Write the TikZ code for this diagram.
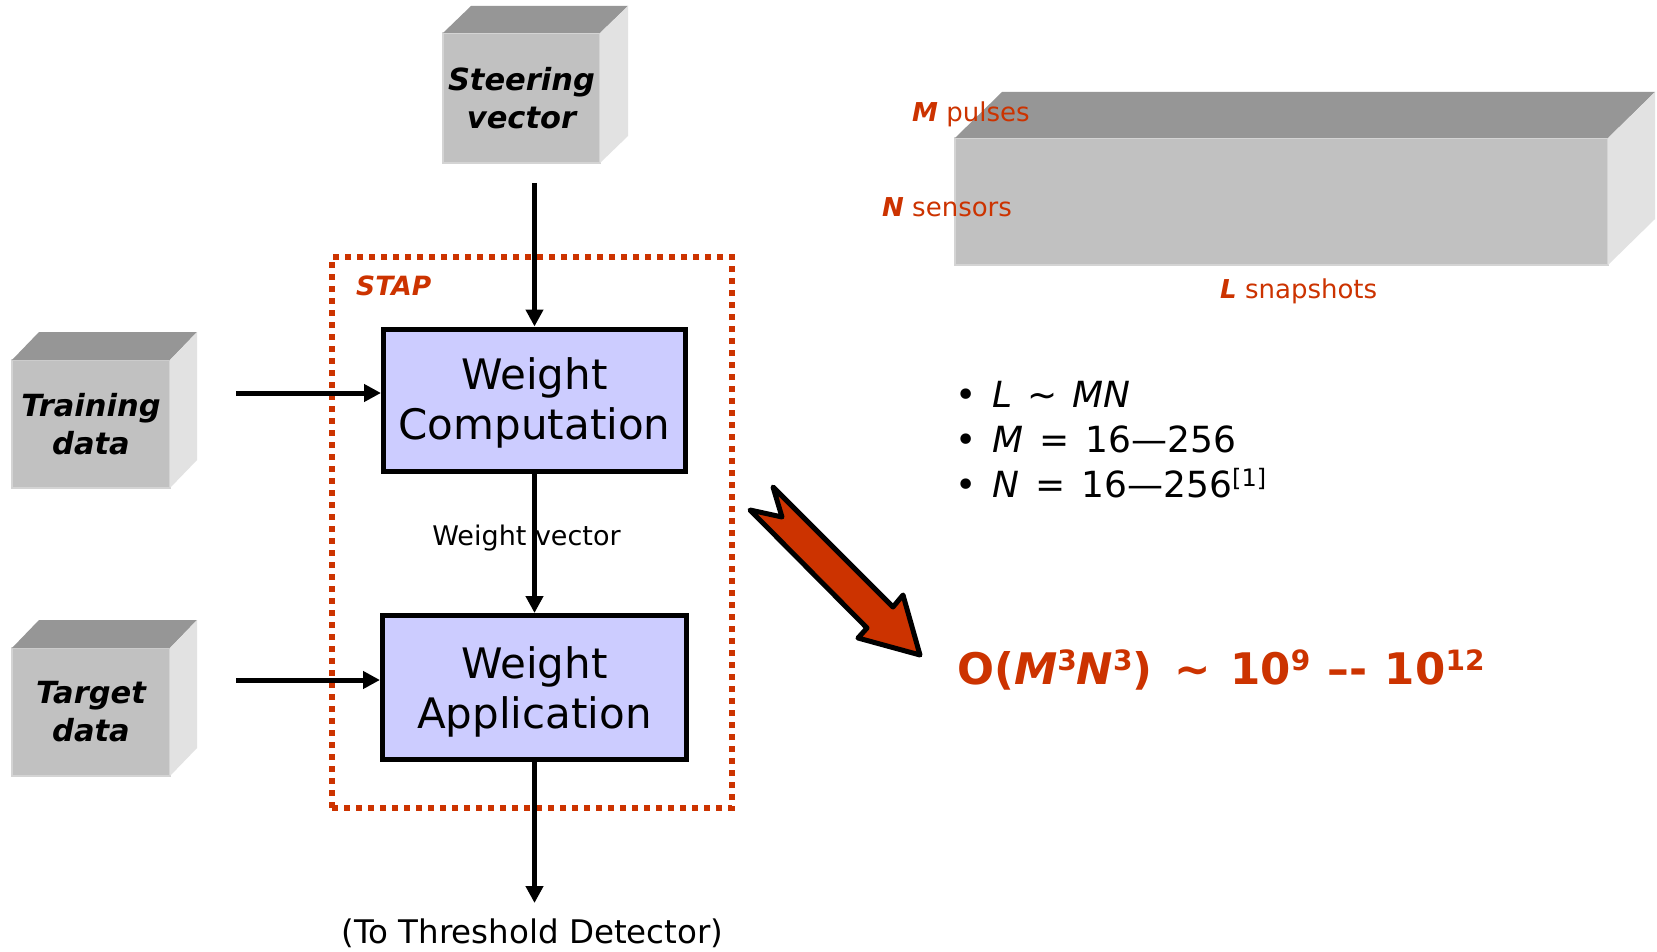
\documentclass[tikz,border=0pt]{standalone}
\usepackage{fontspec}
\setmainfont{DejaVu Sans}
\usetikzlibrary{arrows.meta}
\definecolor{stapred}{RGB}{204,51,0}
\definecolor{boxblue}{RGB}{204,204,255}
\definecolor{cubefront}{RGB}{193,193,193}
\definecolor{cubetop}{RGB}{150,150,150}
\definecolor{cubeside}{RGB}{226,226,226}
\definecolor{cubeedge}{RGB}{212,212,212}
\newcommand\bigsup[1]{\raisebox{13.5pt}{\fontsize{28}{30}\selectfont #1}}
\newcommand\refsup[1]{\raisebox{11pt}{\fontsize{24}{26}\selectfont #1}}
\begin{document}
\begin{tikzpicture}[x=1pt,y=-1pt,
  cubeface/.style={fill=cubefront, draw=cubeedge, line width=1.2pt, inner sep=0pt, outer sep=0pt, align=center,
    font=\fontsize{30.5}{38}\selectfont\bfseries\itshape},
  cubetopface/.style={fill=cubetop},
  cubesideface/.style={fill=cubeside},
  procbox/.style={draw=black, line width=5pt, fill=boxblue, align=center, inner sep=0pt,
    font=\fontsize{42}{50}\selectfont},
  arr/.style={line width=5pt, -{Triangle[length=17pt,width=17pt]}},
  stapbox/.style={draw=stapred, line width=6pt, dash pattern=on 6pt off 6pt, inner sep=0pt},
  redlabel/.style={text=stapred, inner sep=0pt, font=\fontsize{26}{30}\selectfont},
  bullettext/.style={inner sep=0pt, anchor=base west, font=\fontsize{36}{42}\selectfont},
  bigarrow/.style={draw=black, line width=5pt, line join=round, fill=stapred}
]
\fill[white] (0,0) rectangle (1657,952);
\useasboundingbox (0,0) rectangle (1657,952);

% STAP dotted frame
\node[stapbox, minimum width=400pt, minimum height=551pt] (stap) at (532,532.5) {};
\node[inner sep=0pt, anchor=base west, text=stapred, font=\fontsize{26.5}{30}\selectfont\bfseries\itshape] (staplbl) at (356,295) {STAP};

% 3D input boxes
\node[cubeface, minimum width=157pt, minimum height=130pt] (sv) at (521.5,98) {Steering\\vector};
\fill[cubetopface] (sv.north west) -- ++(28,-27) -- ++(157,0) -- (sv.north east) -- cycle;
\fill[cubesideface] (sv.north east) -- ++(28,-27) -- ++(0,130) -- (sv.south east) -- cycle;

\node[cubeface, minimum width=158pt, minimum height=128pt] (tr) at (91,424) {Training\\data};
\fill[cubetopface] (tr.north west) -- ++(27,-28) -- ++(158,0) -- (tr.north east) -- cycle;
\fill[cubesideface] (tr.north east) -- ++(27,-28) -- ++(0,128) -- (tr.south east) -- cycle;

\node[cubeface, minimum width=158pt, minimum height=128pt] (tg) at (91,712) {Target\\data};
\fill[cubetopface] (tg.north west) -- ++(27,-28) -- ++(158,0) -- (tg.north east) -- cycle;
\fill[cubesideface] (tg.north east) -- ++(27,-28) -- ++(0,128) -- (tg.south east) -- cycle;

% processing boxes
\node[procbox, minimum width=302pt, minimum height=142pt] (wc) at (534.5,400) {\rule{0pt}{38pt}Weight\\Computation};
\node[procbox, minimum width=304pt, minimum height=144pt] (wa) at (534.5,687.5) {\rule{0pt}{40pt}Weight\\Application};

% connectors
\coordinate (svout) at (534.5,183);
\coordinate (trout) at (236,393);
\coordinate (tgout) at (236,680);
\coordinate (detin) at (534.5,903);
\draw[arr] (svout) -- (wc.north);
\draw[arr] (trout) -- (trout -| wc.west);
\draw[arr] (tgout) -- (tgout -| wa.west);
\draw[arr] (wc.south) -- (wa.north);
\draw[arr] (wa.south) -- (detin);
\node[inner sep=0pt, anchor=base, font=\fontsize{27}{32}\selectfont] (wvlbl) at (526.5,545) {Weight vector};
\node[inner sep=0pt, anchor=base, font=\fontsize{32.5}{38}\selectfont] (det) at (532.5,943) {(To Threshold Detector)};

% data cube
\node[fill=cubefront, draw=cubeedge, line width=1.2pt, inner sep=0pt, outer sep=0pt, minimum width=653pt, minimum height=127pt] (cube) at (1281.5,201.5) {};
\fill[cubetopface] (cube.north west) -- ++(47,-46) -- ++(653,0) -- (cube.north east) -- cycle;
\fill[cubesideface] (cube.north east) -- ++(47,-46) -- ++(0,127) -- (cube.south east) -- cycle;
\node[redlabel, anchor=base west] (mlbl) at (912,122) {{\bfseries\itshape M} pulses};
\node[redlabel, anchor=base west] (nlbl) at (882,217) {{\bfseries\itshape N} sensors};
\node[redlabel, anchor=base west] (llbl) at (1220,298) {{\bfseries\itshape L} snapshots};

% bullets
\node[bullettext] (b1) at (955,407) {\makebox[37pt][l]{•}\textit{L}\hspace{0.42em}\textasciitilde\hspace{0.42em}\textit{MN}};
\node[bullettext] (b2) at (955,452) {\makebox[37pt][l]{•}\textit{M}\hspace{0.45em}=\hspace{0.45em}16—256};
\node[bullettext] (b3) at (955,497) {\makebox[37pt][l]{•}\textit{N}\hspace{0.45em}=\hspace{0.45em}16—256\refsup{[1]}};

% big red arrow
\draw[bigarrow] (773,487) -- (782,517) -- (750,510) -- (867,628) -- (858,638) -- (920,655) -- (903,595) -- (893,607) -- cycle;

% complexity
\node[inner sep=0pt, anchor=base west, text=stapred, font=\fontsize{43.5}{50}\selectfont\bfseries] (cplx) at (957,684)
  {O(\textit{M}\bigsup{3}\textit{N}\bigsup{3})\hspace{0.5em}\textasciitilde\hspace{0.45em}10\bigsup{9}\hspace{0.4em}–-\hspace{0.4em}10\bigsup{12}};
\end{tikzpicture}
\end{document}
